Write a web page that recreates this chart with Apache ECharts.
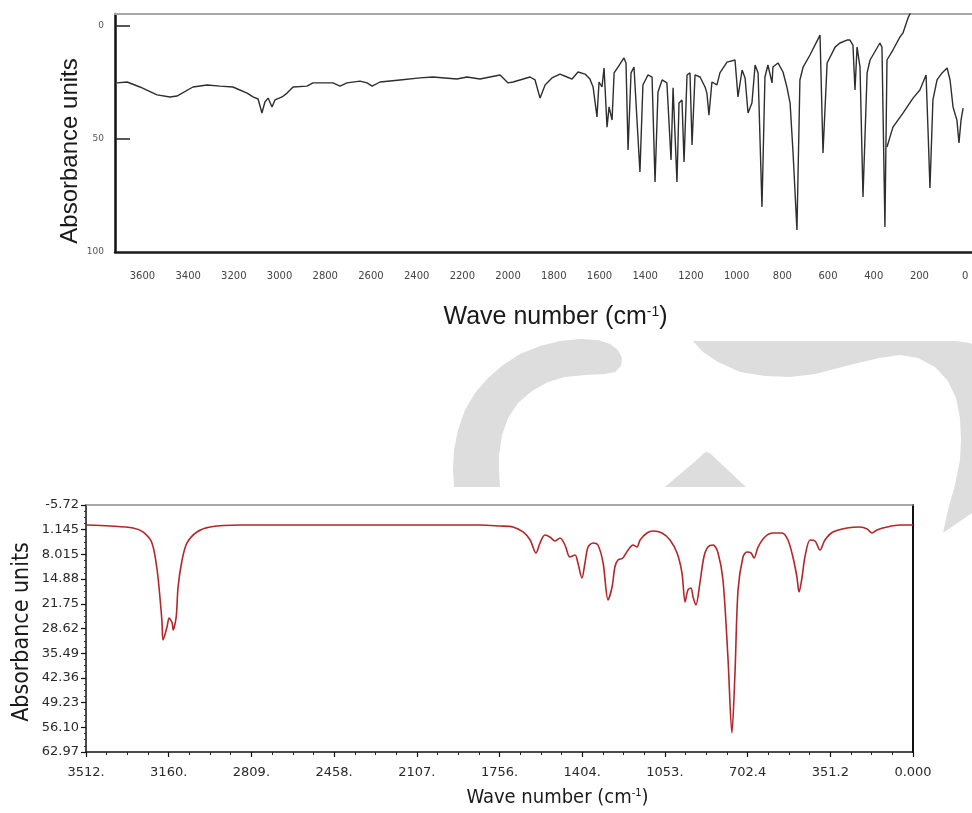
<!DOCTYPE html>
<html>
<head>
<meta charset="utf-8">
<script src="https://cdn.jsdelivr.net/npm/echarts@6/dist/echarts.min.js"></script>
<style>html,body{margin:0;padding:0;background:#fff;}#chart{width:972px;height:813px;}</style>
</head>
<body>
<div id="chart"></div>
<script>
// ---------- Top spectrum (experimental) ----------
const topXTicks = [3600, 3400, 3200, 3000, 2800, 2600, 2400, 2200, 2000, 1800, 1600, 1400, 1200, 1000, 800, 600, 400, 200, 0];
const topYTicks = [0, 50, 100];
const topSpectrumMain = [
[3711,25.4],[3667,25.0],[3611,27.2],[3536,30.7],[3479,31.6],[3449,31.2],[3379,27.2],[3317,26.3],[3260,26.8],[3204,27.2],
[3142,29.9],[3116,31.6],[3094,32.5],[3077,38.7],[3064,33.8],[3050,32.1],[3033,36.0],[3020,32.9],[2989,31.6],[2967,29.9],
[2941,27.2],[2880,26.8],[2854,25.4],[2766,25.4],[2735,26.8],[2705,25.4],[2648,24.6],[2617,25.4],[2595,26.8],[2560,25.0],
[2473,24.1],[2385,23.2],[2329,22.8],[2224,23.7],[2180,22.8],[2123,23.7],[2035,21.9],[2000,25.4],[1978,25.0],[1904,22.8],
[1882,24.1],[1860,32.1],[1838,26.3],[1808,23.2],[1773,21.5],[1742,22.8],[1720,23.7],[1694,20.6],[1663,21.5],[1642,23.7],
[1628,27.2],[1611,40.4],[1602,25.0],[1589,27.2],[1580,18.8],[1567,44.9],[1558,36.0],[1545,41.8],[1536,21.0],[1519,18.4],
[1493,14.4],[1484,16.6],[1475,55.0],[1462,21.0],[1449,18.4],[1423,64.7],[1410,26.3],[1388,21.9],[1370,22.8],[1357,69.1],
[1344,29.4],[1326,24.1],[1305,25.4],[1287,59.4],[1278,27.6],[1261,69.1],[1252,34.3],[1239,32.9],[1230,60.3],[1217,21.9],
[1204,21.0],[1195,52.8],[1182,21.9],[1160,22.8],[1138,27.2],[1130,29.9],[1121,39.6],[1108,25.0],[1086,26.3],[1073,21.0],
[1042,16.2],[1007,15.3],[994,31.6],[976,19.7],[963,23.2],[950,38.7],[933,34.3],[919,17.5],[906,21.0],[889,80.1],
[876,22.8],[863,17.5],[845,25.4],[841,18.4],[819,16.6],[797,20.6],[780,27.2],[766,34.3],[753,56.3],[736,90.3],
[723,24.1],[709,18.4],[679,13.1],[635,4.3],[622,56.3],[604,16.6],[569,9.6],[548,7.8],[517,6.5],[504,6.5],
[491,8.7],[482,28.5],[473,9.6],[460,18.4],[447,75.7],[429,21.0],[416,15.3],[373,7.8],[364,9.6],[351,89.0],
[342,15.3],[316,10.9],[285,5.1],[272,3.4],[250,-3.2],[233,-7]
];
const topSpectrumFarIR = [
[342,53.7],[329,49.3],[316,44.9],[272,38.7],[228,32.1],[198,28.5],[171,21.9],[162,47.5],[154,71.8],[141,32.9],
[123,24.1],[101,21.0],[79,18.8],[66,24.1],[53,36.0],[36,41.8],[27,51.9],[18,41.8],[9,36.5]
];

// ---------- Bottom spectrum (calculated) ----------
const bottomXLabels = ['0.000','351.2','702.4','1053.','1404.','1756.','2107.','2458.','2809.','3160.','3512.'];
const bottomYLabels = ['-5.72','1.145','8.015','14.88','21.75','28.62','35.49','42.36','49.23','56.10','62.97'];
const bottomSpectrum = [
[3508,-0.16],[3410,0.12],[3312,0.67],[3270,1.78],[3232,4.84],[3210,12.35],[3197,20.69],[3189,27.09],[3185,31.82],[3168,28.20],
[3159,25.70],[3146,27.09],[3142,29.04],[3129,25.43],[3121,17.08],[3104,9.57],[3083,4.84],[3041,1.78],[2985,0.39],[2858,-0.16],
[1839,-0.16],[1754,0.12],[1699,0.39],[1656,1.78],[1626,4.01],[1601,7.62],[1584,4.84],[1563,2.62],[1542,3.17],[1520,4.29],
[1499,3.45],[1478,5.40],[1457,8.74],[1435,8.18],[1423,10.41],[1406,14.58],[1393,10.41],[1380,5.96],[1359,4.84],[1338,5.40],
[1316,10.41],[1295,20.69],[1278,17.08],[1266,11.52],[1253,9.57],[1232,9.01],[1210,6.79],[1189,5.40],[1172,5.96],[1159,4.01],
[1130,2.06],[1104,1.51],[1066,2.06],[1032,4.01],[1002,7.62],[981,13.19],[968,21.25],[956,17.91],[943,17.36],[934,19.86],
[922,22.09],[905,15.97],[888,8.74],[871,5.96],[849,5.40],[828,7.62],[807,15.13],[786,36.55],[769,57.68],[756,41.00],
[743,17.91],[722,8.74],[705,7.35],[688,7.62],[675,9.01],[658,5.96],[629,3.17],[595,2.06],[556,2.06],[531,4.01],
[510,8.74],[493,14.30],[484,18.47],[471,14.30],[459,8.74],[437,4.01],[416,4.29],[395,6.79],[374,4.01],[340,1.78],
[280,0.67],[225,0.39],[195,0.95],[174,2.06],[153,1.23],[110,0.39],[55,-0.16],[0,-0.16]
];

const BY_MIN = -5.724, BY_MAX = 62.966, BY_INT = 6.869;
const BX_MIN = 0, BX_MAX = 3512, BX_INT = 351.2;

const chart = echarts.init(document.getElementById('chart'), null, {renderer: 'canvas'});

const noAxisExtras = {axisTick: {show: false}, axisLabel: {show: false}, splitLine: {show: false}};

// background watermark outline (decorative)
const wmLeft = [[454,487],[453,470],[454,450],[458,430],[465,410],[475,393],[488,378],[503,365],[520,354],[540,346],[560,341],[580,339],[598,340],[610,344],[618,350],[622,358],[621,366],[615,372],[605,374],[585,375],[565,377],[548,382],[532,391],[518,403],[508,418],[502,435],[499,455],[499,472],[500,487]];
const wmMid = [[665,487],[699,458],[704,453],[707,452],[710,453],[715,458],[746,487]];
const wmRight = [[693,341],[955,341],[970,343],[985,352],[995,370],[1000,400],[1000,505],[972,513],[943,533],[948,510],[955,485],[960,460],[961,440],[960,418],[956,398],[948,381],[935,367],[918,358],[900,355],[879,358],[850,365],[815,374],[790,377],[765,376],[740,372],[718,362],[703,352]];

const option = {
  animation: false,
  backgroundColor: '#ffffff',
  grid: [
    {left: 115, right: 0, top: 14, bottom: 561},
    {left: 86, right: 59, top: 505, bottom: 61}
  ],
  xAxis: [
    {
      gridIndex: 0, type: 'value', inverse: true, min: -30, max: 3720,
      axisLine: {onZero: false, lineStyle: {color: '#1a1a1a', width: 2.5}},
      axisTick: {show: false}, splitLine: {show: false},
      axisLabel: {customValues: topXTicks, formatter: v => String(v), fontSize: 10, color: '#444', fontFamily: 'DejaVu Sans', margin: 19},
      name: '{a|Wave number (cm}{s|-1}{a|)}', nameLocation: 'middle', nameGap: 53,
      nameTextStyle: {fontSize: 25, padding: [0, 0, 0, 24], rich: {
        a: {fontSize: 25, fontFamily: 'Liberation Sans', color: '#1a1a1a'},
        s: {fontSize: 14, fontFamily: 'Liberation Sans', color: '#1a1a1a', verticalAlign: 'top'}
      }}
    },
    Object.assign({
      gridIndex: 0, type: 'value', position: 'top', inverse: true, min: -30, max: 3720,
      axisLine: {onZero: false, lineStyle: {color: '#a8a8a8', width: 2}}
    }, noAxisExtras),
    {
      gridIndex: 1, type: 'value', inverse: true, min: BX_MIN, max: BX_MAX, interval: BX_INT,
      axisLine: {onZero: false, lineStyle: {color: '#111', width: 1.5}},
      axisTick: {show: true, length: 5, lineStyle: {color: '#111', width: 1.2}},
      minorTick: {show: true, splitNumber: 4, length: 3, lineStyle: {color: '#222', width: 1}},
      splitLine: {show: false},
      axisLabel: {showMinLabel: true, showMaxLabel: true, fontSize: 13, color: '#2a2a2a', fontFamily: 'DejaVu Sans', margin: 14,
        formatter: v => bottomXLabels[Math.round((v - BX_MIN) / BX_INT)]},
      name: '{a|Wave number (cm}{s|-1}{a|)}', nameLocation: 'middle', nameGap: 36,
      nameTextStyle: {fontSize: 20, padding: [0, 0, 0, 116], rich: {
        a: {fontSize: 20, fontFamily: 'DejaVu Sans Condensed', color: '#1a1a1a'},
        s: {fontSize: 11, fontFamily: 'DejaVu Sans Condensed', color: '#1a1a1a', verticalAlign: 'top'}
      }}
    },
    Object.assign({
      gridIndex: 1, type: 'value', position: 'top', inverse: true, min: BX_MIN, max: BX_MAX,
      axisLine: {onZero: false, lineStyle: {color: '#8a8a8a', width: 1.5}}
    }, noAxisExtras)
  ],
  yAxis: [
    {
      gridIndex: 0, type: 'value', inverse: true, min: -5, max: 100,
      axisLine: {onZero: false, lineStyle: {color: '#111', width: 2.5}},
      axisTick: {show: true, customValues: [0, 50], inside: true, length: 15, lineStyle: {color: '#222', width: 1.5}},
      axisLabel: {customValues: topYTicks, fontSize: 9, color: '#555', fontFamily: 'DejaVu Sans', margin: 11},
      splitLine: {show: false}
    },
    {
      gridIndex: 1, type: 'value', inverse: true, min: BY_MIN, max: BY_MAX, interval: BY_INT,
      axisLine: {onZero: false, lineStyle: {color: '#111', width: 1.5}},
      axisTick: {show: true, length: 5, lineStyle: {color: '#111', width: 1.2}},
      minorTick: {show: true, splitNumber: 4, length: 2, lineStyle: {color: '#333', width: 1}},
      splitLine: {show: false},
      axisLabel: {showMinLabel: true, showMaxLabel: true, fontSize: 13, color: '#2a2a2a', fontFamily: 'DejaVu Sans', margin: 7,
        formatter: v => bottomYLabels[Math.round((v - BY_MIN) / BY_INT)]}
    },
    Object.assign({
      gridIndex: 1, type: 'value', position: 'right', inverse: true, min: BY_MIN, max: BY_MAX,
      axisLine: {onZero: false, lineStyle: {color: '#111', width: 2}}
    }, noAxisExtras)
  ],
  graphic: [
    {type: 'polygon', silent: true, z: -10, shape: {points: wmLeft}, style: {fill: '#dddddd'}},
    {type: 'polygon', silent: true, z: -10, shape: {points: wmMid}, style: {fill: '#dddddd'}},
    {type: 'polygon', silent: true, z: -10, shape: {points: wmRight}, style: {fill: '#dddddd'}},
    {type: 'text', x: 70, y: 151, rotation: Math.PI / 2, silent: true,
     style: {text: 'Absorbance units', fontSize: 24, fontFamily: 'Liberation Sans', fill: '#1a1a1a',
             align: 'center', verticalAlign: 'middle', textAlign: 'center', textVerticalAlign: 'middle'}},
    {type: 'text', x: 22, y: 632, rotation: Math.PI / 2, silent: true,
     style: {text: 'Absorbance units', fontSize: 23, fontFamily: 'DejaVu Sans Condensed', fill: '#1a1a1a',
             align: 'center', verticalAlign: 'middle', textAlign: 'center', textVerticalAlign: 'middle'}}
  ],
  series: [
    {name: 'Experimental', type: 'line', xAxisIndex: 0, yAxisIndex: 0, data: topSpectrumMain,
     symbol: 'none', lineStyle: {color: '#2e2e2e', width: 1.4}, clip: true},
    {name: 'Experimental far-IR', type: 'line', xAxisIndex: 0, yAxisIndex: 0, data: topSpectrumFarIR,
     symbol: 'none', lineStyle: {color: '#2e2e2e', width: 1.4}, clip: true},
    {name: 'Calculated', type: 'line', xAxisIndex: 2, yAxisIndex: 1, data: bottomSpectrum,
     symbol: 'none', smooth: 0.3, lineStyle: {color: '#b3262b', width: 1.6}, clip: true}
  ]
};
chart.setOption(option);
</script>
</body>
</html>
